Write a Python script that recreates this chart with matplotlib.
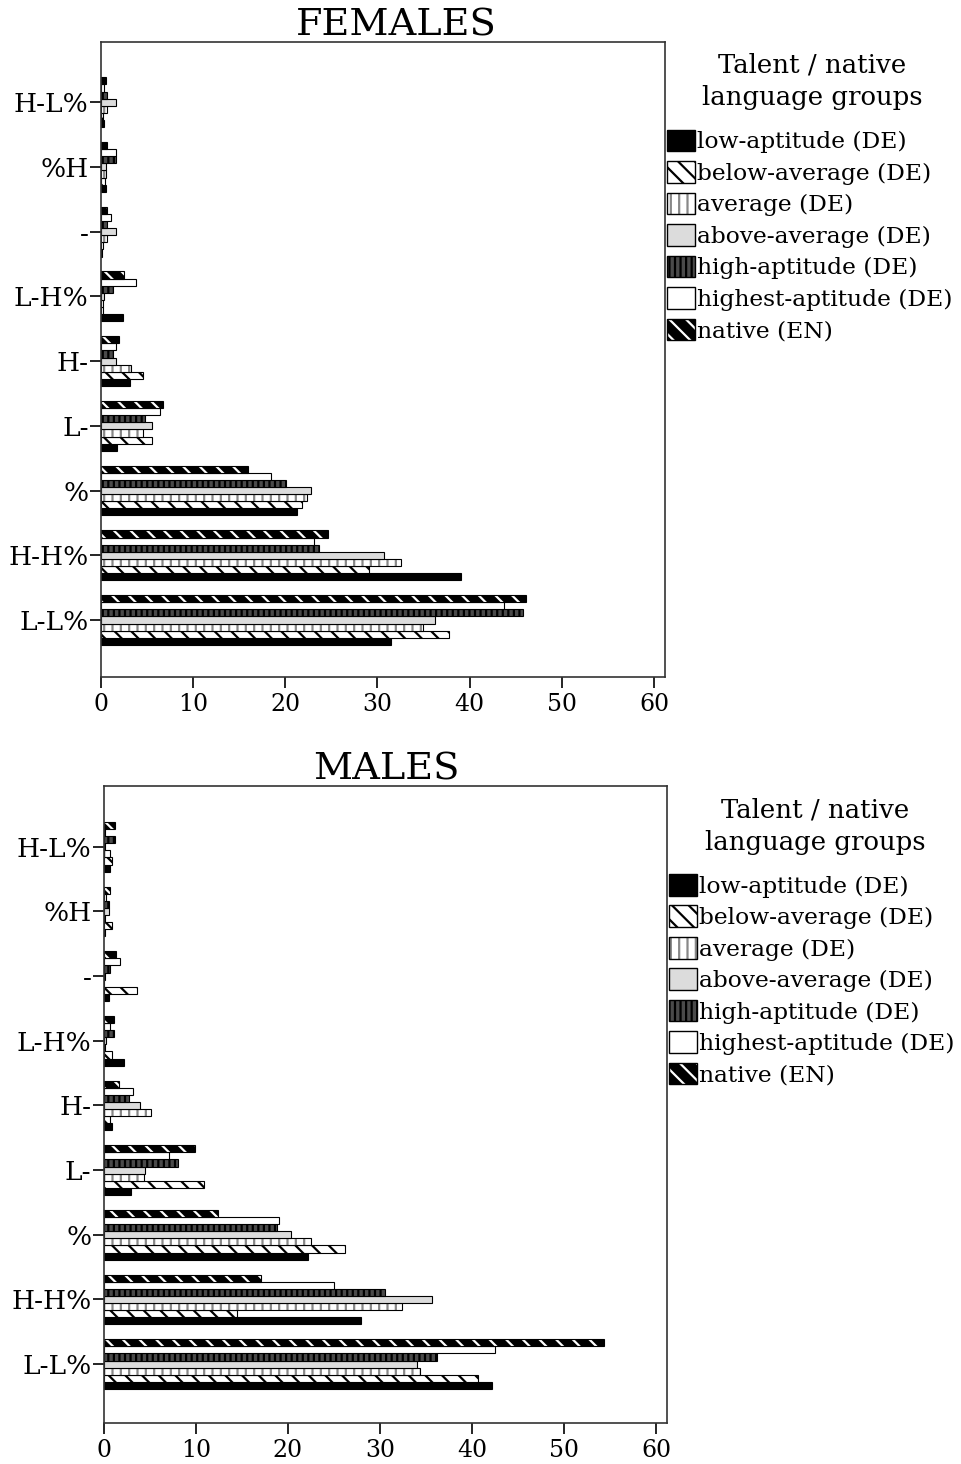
import numpy as np
import matplotlib
matplotlib.use('Agg')
import matplotlib.pyplot as plt
from matplotlib.patches import Patch

plt.rcParams['font.family'] = 'DejaVu Serif'
plt.rcParams['hatch.linewidth'] = 1.6

categories = ['L-L%', 'H-H%', '%', 'L-', 'H-', 'L-H%', '-', '%H', 'H-L%']
groups = ['low-aptitude (DE)', 'below-average (DE)', 'average (DE)',
          'above-average (DE)', 'high-aptitude (DE)', 'highest-aptitude (DE)',
          'native (EN)']

# percentages per group, categories bottom -> top
fem_low     = [31.5, 39.1, 21.3, 1.7, 3.1, 2.4, 0.1, 0.5, 0.3]
fem_below   = [37.8, 29.1, 21.8, 5.5, 4.6, 0.2, 0.2, 0.4, 0.2]
fem_average = [34.9, 32.6, 22.4, 4.6, 3.3, 0.2, 0.65, 0.5, 0.7]
fem_above   = [36.2, 30.7, 22.8, 5.5, 1.6, 0.3, 1.6, 0.5, 1.6]
fem_high    = [45.8, 23.7, 20.1, 4.8, 1.3, 1.3, 0.7, 1.6, 0.7]
fem_highest = [43.7, 23.1, 18.4, 6.4, 1.6, 3.8, 1.1, 1.6, 0.3]
fem_native  = [46.1, 24.6, 15.9, 6.7, 2.0, 2.5, 0.6, 0.6, 0.5]

mal_low     = [42.2, 27.9, 22.2, 2.9, 0.9, 2.2, 0.5, 0.1, 0.7]
mal_below   = [40.7, 14.5, 26.2, 10.9, 0.7, 0.9, 3.6, 0.9, 0.9]
mal_average = [34.4, 32.4, 22.5, 4.4, 5.1, 0.1, 0.05, 0.1, 0.6]
mal_above   = [34.0, 35.7, 20.3, 4.5, 3.9, 0.2, 0.1, 0.5, 0.1]
mal_high    = [36.2, 30.5, 18.8, 8.0, 2.7, 1.1, 0.6, 0.5, 1.2]
mal_highest = [42.5, 25.0, 19.0, 7.1, 3.1, 0.7, 1.7, 0.2, 0.1]
mal_native  = [54.3, 17.1, 12.4, 9.9, 1.6, 1.1, 1.3, 0.7, 1.2]

females = [fem_low, fem_below, fem_average, fem_above, fem_high, fem_highest, fem_native]
males = [mal_low, mal_below, mal_average, mal_above, mal_high, mal_highest, mal_native]

# (face, hatch, hatch colour)
styles = [
    ('black', None, 'black'),
    ('white', '\\\\', 'black'),
    ('white', '||', '#888888'),
    ('#dcdcdc', None, 'black'),
    ('#4a4a4a', '|||', 'black'),
    ('white', None, 'black'),
    ('black', '\\\\', 'white'),
]

bar_h = 0.11
ypos = np.arange(len(categories))


def draw_panel(ax, data, title, ylim, title_x, leg_y):
    for i, vals in enumerate(data):
        face, hatch, hcol = styles[i]
        y = ypos + (i - 3) * bar_h
        ax.barh(y, vals, height=bar_h, color=face, hatch=hatch,
                edgecolor=hcol, linewidth=0)
        ax.barh(y, vals, height=bar_h, color='none', edgecolor='black',
                linewidth=0.8)
    ax.set_xlim(0, 61.2)
    ax.set_ylim(*ylim)
    ax.set_xticks(range(0, 61, 10))
    ax.set_yticks(ypos)
    ax.set_yticklabels(categories, fontsize=19)
    ax.tick_params(axis='x', labelsize=17, length=8, width=1.2)
    ax.tick_params(axis='y', length=8, width=1.2, pad=1)
    for s in ax.spines.values():
        s.set_linewidth(1.2)
        s.set_color('#333333')
    ax.text(title_x, 1.01, title, transform=ax.transAxes, fontsize=27.5,
            ha='center', va='baseline')

    handles = []
    for i in range(len(groups)):
        face, hatch, hcol = styles[i]
        fill = Patch(facecolor=face, hatch=hatch, edgecolor=hcol, linewidth=0)
        edge = Patch(facecolor='none', edgecolor='black', linewidth=1.0)
        handles.append((fill, edge))
    ax.legend(handles, groups, loc='upper left', bbox_to_anchor=(1.003, leg_y),
              frameon=False, fontsize=16.8, handlelength=1.2, handleheight=1.05,
              handletextpad=0.12, labelspacing=0.33, borderpad=0,
              borderaxespad=0)


fig = plt.figure(figsize=(9.61, 14.64), dpi=100)
ax1 = fig.add_axes([101 / 961, 1 - 677 / 1464, 564 / 961, 635 / 1464])
ax2 = fig.add_axes([104 / 961, 1 - 1423 / 1464, 563 / 961, 637 / 1464])

draw_panel(ax1, females, 'FEMALES', (-0.88, 8.93), 0.523, 0.862)
draw_panel(ax2, males, 'MALES', (-0.91, 8.94), 0.501, 0.862)

# legend headings
for xc, y1, y2 in [(812, 65, 98), (815, 810, 843)]:
    fig.text(xc / 961, 1 - y1 / 1464, 'Talent / native', fontsize=18.7,
             ha='center', va='center')
    fig.text(xc / 961, 1 - y2 / 1464, 'language groups', fontsize=18.7,
             ha='center', va='center')

fig.savefig('out.png', dpi=100)
